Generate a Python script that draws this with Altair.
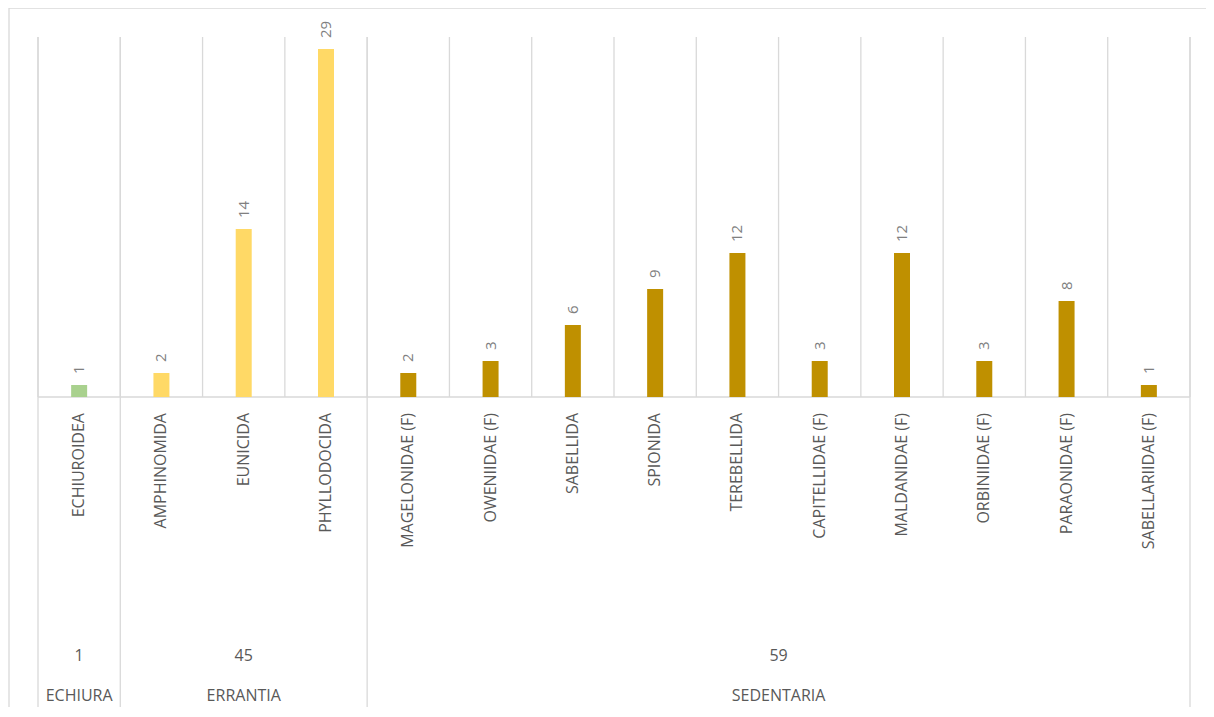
import altair as alt
import pandas as pd

categories = ["ECHIUROIDEA", "AMPHINOMIDA", "EUNICIDA", "PHYLLODOCIDA",
              "MAGELONIDAE (F)", "OWENIIDAE (F)", "SABELLIDA", "SPIONIDA",
              "TEREBELLIDA", "CAPITELLIDAE (F)", "MALDANIDAE (F)", "ORBINIIDAE (F)",
              "PARAONIDAE (F)", "SABELLARIIDAE (F)"]
values = [1, 2, 14, 29, 2, 3, 6, 9, 12, 3, 12, 3, 8, 1]
cat_groups = ["ECHIURA", "ERRANTIA", "ERRANTIA", "ERRANTIA",
              "SEDENTARIA", "SEDENTARIA", "SEDENTARIA", "SEDENTARIA", "SEDENTARIA",
              "SEDENTARIA", "SEDENTARIA", "SEDENTARIA", "SEDENTARIA", "SEDENTARIA"]
group_names = ["ECHIURA", "ERRANTIA", "SEDENTARIA"]
group_totals = [1, 45, 59]
group_colors = ["#A9D18E", "#FFD966", "#BF9000"]

FONT = "Open Sans"
GRID = "#D9D9D9"
N = len(categories)

bars = pd.DataFrame({
    "cat": categories,
    "value": values,
    "group": cat_groups,
    "pos": [i + 0.5 for i in range(N)],
})

# group spans
starts, ends = [], []
for g in group_names:
    idx = [i for i, c in enumerate(cat_groups) if c == g]
    starts.append(min(idx))
    ends.append(max(idx) + 1)
groups = pd.DataFrame({
    "group": group_names,
    "total": [str(t) for t in group_totals],
    "mid": [(s + e) / 2 for s, e in zip(starts, ends)],
})
group_bounds = pd.DataFrame({"b": sorted(set(starts + ends))})
inner_bounds = pd.DataFrame({"b": list(range(N + 1))})

xs = alt.Scale(domain=[0, N], nice=False, zero=False, padding=0)
ys = alt.Scale(domain=[0, 30], nice=False, padding=0)
X = lambda f: alt.X(f, type="quantitative", scale=xs, axis=None)
Y = lambda f: alt.Y(f, type="quantitative", scale=ys, axis=None)

inner = alt.Chart(inner_bounds).mark_rule(color=GRID, strokeWidth=1.3).encode(
    x=X("b"), y=alt.datum(30, scale=ys, axis=None), y2=alt.datum(0))

grp = alt.Chart(group_bounds).mark_rule(color=GRID, strokeWidth=1.3).encode(
    x=X("b"), y=alt.value(0), y2=alt.value(673))

base = alt.Chart(pd.DataFrame({"a": [0], "b": [N]})).mark_rule(color=GRID, strokeWidth=1.3).encode(
    x=X("a"), x2="b", y=alt.datum(0, scale=ys, axis=None))

border = alt.Chart(pd.DataFrame({"k": [0]})).mark_rule(color=GRID, strokeWidth=1.3)
border_left = border.encode(x=alt.value(-29), y=alt.value(-29), y2=alt.value(690))
border_top = border.encode(x=alt.value(-29), x2=alt.value(1200), y=alt.value(-29))

barmark = alt.Chart(bars).mark_bar(orient="vertical", size=16).encode(
    x=X("pos"),
    y=Y("value"),
    y2=alt.datum(0),
    color=alt.Color("group:N", scale=alt.Scale(domain=group_names, range=group_colors), legend=None),
)

vlabels = alt.Chart(bars).mark_text(
    angle=270, align="left", baseline="middle", dx=11,
    font=FONT, fontSize=15, color="#808080"
).encode(x=X("pos"), y=Y("value"), text="value:Q")

clabels = alt.Chart(bars).mark_text(
    angle=270, align="right", baseline="middle",
    font=FONT, fontSize=16, color="#595959"
).encode(x=X("pos"), y=alt.value(376), text="cat:N")

totals = alt.Chart(groups).mark_text(
    align="center", baseline="middle", font=FONT, fontSize=16, color="#595959"
).encode(x=X("mid"), y=alt.value(619), text="total:N")

gnames = alt.Chart(groups).mark_text(
    align="center", baseline="middle", font=FONT, fontSize=16, color="#595959"
).encode(x=X("mid"), y=alt.value(659), text="group:N")

chart = alt.layer(
    border_left, border_top, inner, grp, base, barmark, vlabels, clabels, totals, gnames
).properties(
    width=1152, height=360,
    padding={"left": 30, "top": 29, "right": 16, "bottom": 310},
    autosize="none",
).configure_view(stroke=None)

chart.save("out.html", embed_options={"renderer": "svg", "actions": False})
